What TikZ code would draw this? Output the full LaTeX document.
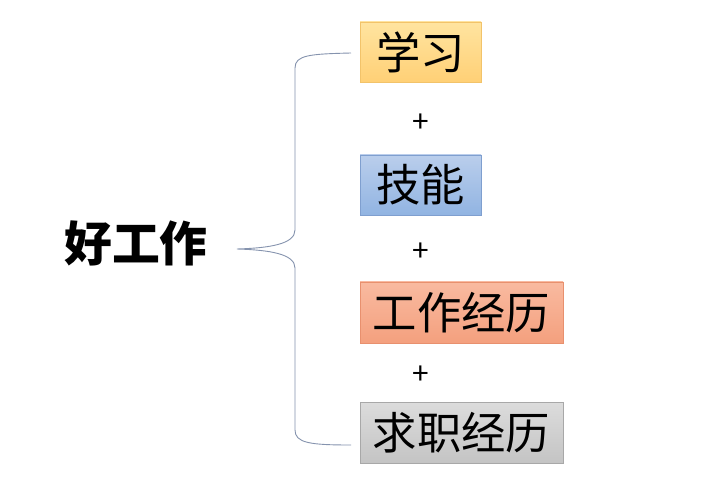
\documentclass[tikz,border=0pt]{standalone}
\usepackage{fontspec}
\newfontfamily\cjk{Noto Sans CJK SC}
\definecolor{braceC}{HTML}{8593AE}
\definecolor{b1line}{HTML}{F2C36A}
\definecolor{b1top}{RGB}{255,228,160}
\definecolor{b1bot}{RGB}{255,208,118}
\definecolor{b2line}{HTML}{7F9FCF}
\definecolor{b2top}{RGB}{186,206,236}
\definecolor{b2bot}{RGB}{145,180,226}
\definecolor{b3line}{HTML}{E8906E}
\definecolor{b3top}{RGB}{249,186,160}
\definecolor{b3bot}{RGB}{244,160,126}
\definecolor{b4line}{HTML}{A8A8A8}
\definecolor{b4top}{RGB}{220,220,220}
\definecolor{b4bot}{RGB}{196,196,196}
\begin{document}
\begin{tikzpicture}[x=1bp,y=-1bp,
  itembox/.style={draw=#1line, top color=#1top, bottom color=#1bot, line width=0.8bp, inner sep=0pt, minimum height=60bp,
    font=\cjk\fontsize{44.5}{44.5}\selectfont, text=black},
  plussign/.style={font=\cjk\fontsize{30}{30}\selectfont, text=black},
  bracestyle/.style={draw=braceC, line width=0.9bp}]
\useasboundingbox[fill=white] (0,0) rectangle (720,498);
\node[itembox=b1, minimum width=121bp] (b1) at (420.5,52) {学习};
\node[itembox=b2, minimum width=121bp] (b2) at (420.5,185) {技能};
\node[itembox=b3, minimum width=203bp, minimum height=61bp] (b3) at (461.5,312.5) {工作经历};
\node[itembox=b4, minimum width=203bp, minimum height=61bp] (b4) at (461.5,432.5) {求职经历};
\node[plussign] (p1) at (421,123) {+};
\node[plussign] (p2) at (421,252) {+};
\node[plussign] (p3) at (421,375) {+};
\node[font=\cjk\bfseries\fontsize{48}{48}\selectfont, inner sep=0pt] (main) at (136,243) {好工作};
\coordinate (tip) at (237,249);
\coordinate (btop) at (351,53);
\coordinate (bbot) at (351,445);
\draw[bracestyle] (btop) .. controls (310,54) and (295,55) .. (295,68) -- (295,230)
  .. controls (295,244) and (270,248) .. (tip)
  .. controls (270,250) and (295,254) .. (295,268) -- (295,430)
  .. controls (295,443) and (310,445) .. (bbot);
\end{tikzpicture}
\end{document}
